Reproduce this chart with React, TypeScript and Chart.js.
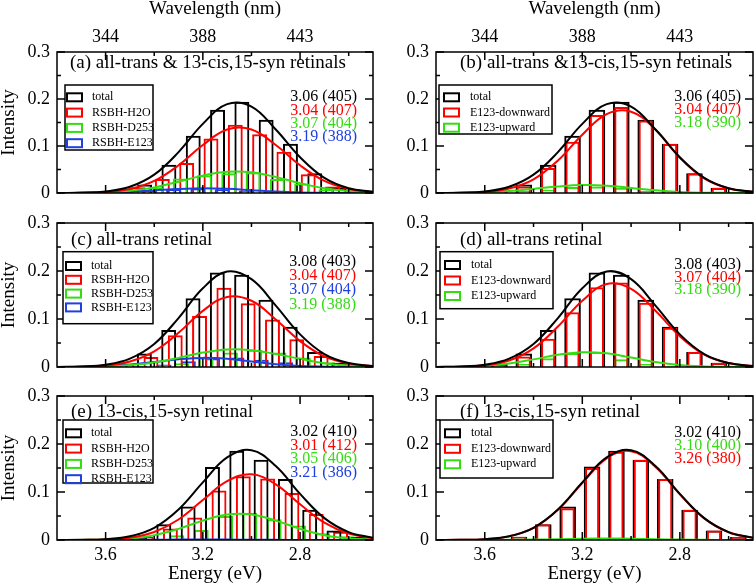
import React, { useEffect, useRef } from "react";
import { Chart, registerables } from "chart.js";

Chart.register(...registerables);

const SERIF = "'Liberation Serif', 'Times New Roman', 'DejaVu Serif', serif";

const BLACK = "#000000";
const RED = "#ff0000";
const GREEN = "#33dd11";
const BLUE = "#1f3fe0";

// ---------- shared axes ----------
const energyGrid = [3.8, 3.7, 3.6, 3.5, 3.4, 3.3, 3.2, 3.1, 3.0, 2.9, 2.8, 2.7, 2.6, 2.5];
const xMajorTicks = [3.6, 3.2, 2.8];
const xMinorTicks = [3.4, 3.0, 2.6];
const wavelengthLabels = ["344", "388", "443"];
const yMajorTicks = [0, 0.1, 0.2, 0.3];
const yMinorTicks = [0.05, 0.15, 0.25];

// ---------- panel (a) ----------
const binsA = [3.78, 3.68, 3.58, 3.48, 3.38, 3.28, 3.18, 3.08, 2.98, 2.88, 2.78, 2.68, 2.58];
const barsA_total = [0, 0.001, 0.005, 0.018, 0.06, 0.122, 0.177, 0.194, 0.156, 0.105, 0.042, 0.011, 0.002];
const barsA_h2o = [0, 0.001, 0.004, 0.012, 0.03, 0.064, 0.116, 0.145, 0.125, 0.088, 0.04, 0.014, 0.004];
const barsA_d253 = [0, 0, 0.001, 0.003, 0.012, 0.031, 0.038, 0.042, 0.044, 0.03, 0.02, 0.008, 0.002];
const barsA_e123 = [0, 0, 0.001, 0.002, 0.004, 0.008, 0.01, 0.008, 0.005, 0.002, 0.001, 0, 0];
const fitA_total = [0.0001, 0.0007, 0.0034, 0.0132, 0.039, 0.087, 0.147, 0.189, 0.184, 0.135, 0.076, 0.032, 0.01, 0.0025];
const fitA_h2o = [0.0001, 0.0004, 0.0021, 0.0085, 0.0256, 0.059, 0.102, 0.135, 0.135, 0.102, 0.059, 0.0256, 0.0085, 0.0021];
const fitA_d253 = [0.0001, 0.0004, 0.0015, 0.005, 0.012, 0.024, 0.037, 0.045, 0.044, 0.034, 0.021, 0.01, 0.004, 0.001];
const fitA_e123 = [0.0001, 0.0003, 0.001, 0.0026, 0.0054, 0.0085, 0.01, 0.0089, 0.0061, 0.0031, 0.0012, 0.0004, 0.0001, 0];

// ---------- panel (b) ----------
const binsB = [3.74, 3.64, 3.54, 3.44, 3.34, 3.24, 3.14, 3.04, 2.94, 2.84, 2.74, 2.64, 2.54];
const barsB_total = [0, 0.001, 0.005, 0.018, 0.06, 0.122, 0.177, 0.194, 0.156, 0.105, 0.042, 0.011, 0.002];
const barsB_down = [0, 0.001, 0.003, 0.014, 0.053, 0.109, 0.166, 0.183, 0.154, 0.104, 0.042, 0.011, 0.002];
const barsB_up = [0, 0, 0.001, 0.004, 0.007, 0.013, 0.014, 0.011, 0.004, 0.001, 0, 0, 0];
const fitB_total = [0.0001, 0.0007, 0.0034, 0.0132, 0.039, 0.087, 0.147, 0.189, 0.184, 0.135, 0.076, 0.032, 0.01, 0.0025];
const fitB_down = [0.0001, 0.0004, 0.0023, 0.0094, 0.029, 0.069, 0.124, 0.168, 0.173, 0.135, 0.075, 0.031, 0.0095, 0.0025];
const fitB_up = [0.0001, 0.0004, 0.0015, 0.0041, 0.0087, 0.0139, 0.0169, 0.0156, 0.0108, 0.0057, 0.0023, 0.0007, 0.0002, 0];

// ---------- panel (c) ----------
const binsC = [3.8, 3.7, 3.6, 3.5, 3.4, 3.3, 3.2, 3.1, 3.0, 2.9, 2.8, 2.7, 2.6];
const barsC_total = [0, 0.001, 0.002, 0.006, 0.028, 0.077, 0.143, 0.197, 0.192, 0.14, 0.084, 0.031, 0.009];
const barsC_h2o = [0, 0, 0.001, 0.005, 0.021, 0.066, 0.106, 0.165, 0.133, 0.099, 0.058, 0.023, 0.007];
const barsC_d253 = [0, 0, 0, 0.001, 0.003, 0.008, 0.02, 0.03, 0.036, 0.03, 0.02, 0.01, 0.003];
const barsC_e123 = [0, 0, 0.001, 0.002, 0.005, 0.012, 0.018, 0.02, 0.015, 0.01, 0.003, 0.001, 0];
const fitC_total = [0.0002, 0.001, 0.0048, 0.0174, 0.048, 0.102, 0.164, 0.199, 0.183, 0.128, 0.068, 0.027, 0.0082, 0.0019];
const fitC_h2o = [0.0001, 0.0006, 0.003, 0.0114, 0.0327, 0.0712, 0.117, 0.146, 0.138, 0.099, 0.054, 0.022, 0.007, 0.0016];
const fitC_d253 = [0.0001, 0.0003, 0.0012, 0.004, 0.0095, 0.019, 0.03, 0.0365, 0.035, 0.027, 0.017, 0.008, 0.003, 0.0008];
const fitC_e123 = [0.0001, 0.0005, 0.0018, 0.005, 0.0103, 0.0161, 0.019, 0.017, 0.0115, 0.0059, 0.0023, 0.0007, 0.0002, 0];

// ---------- panel (d) ----------
const binsD = [3.74, 3.64, 3.54, 3.44, 3.34, 3.24, 3.14, 3.04, 2.94, 2.84, 2.74, 2.64, 2.54];
const barsD_total = [0, 0.002, 0.006, 0.028, 0.077, 0.143, 0.197, 0.192, 0.14, 0.084, 0.031, 0.009, 0.002];
const barsD_down = [0, 0.001, 0.004, 0.022, 0.059, 0.114, 0.166, 0.176, 0.134, 0.082, 0.031, 0.009, 0.002];
const barsD_up = [0, 0.001, 0.002, 0.006, 0.018, 0.029, 0.031, 0.016, 0.006, 0.002, 0, 0, 0];
const fitD_total = [0.0002, 0.001, 0.0048, 0.0174, 0.048, 0.102, 0.164, 0.199, 0.183, 0.128, 0.068, 0.027, 0.0082, 0.0019];
const fitD_down = [0.0001, 0.0007, 0.0035, 0.0135, 0.0387, 0.0842, 0.138, 0.173, 0.163, 0.117, 0.064, 0.026, 0.0082, 0.0019];
const fitD_up = [0.0002, 0.0007, 0.0027, 0.0075, 0.0159, 0.0254, 0.0308, 0.0284, 0.0198, 0.0105, 0.0042, 0.0013, 0.0003, 0.0001];

// ---------- panel (e) ----------
const binsE = [3.72, 3.62, 3.52, 3.42, 3.32, 3.22, 3.12, 3.02, 2.92, 2.82, 2.72, 2.62, 2.52];
const barsE_total = [0, 0, 0.001, 0.005, 0.033, 0.07, 0.152, 0.186, 0.167, 0.127, 0.063, 0.02, 0.006];
const barsE_h2o = [0, 0, 0.001, 0.007, 0.024, 0.047, 0.103, 0.133, 0.128, 0.098, 0.054, 0.017, 0.006];
const barsE_d253 = [0, 0, 0, 0.002, 0.01, 0.021, 0.05, 0.057, 0.043, 0.03, 0.014, 0.008, 0.002];
const barsE_e123 = [0, 0, 0, 0, 0.001, 0.001, 0.001, 0, 0, 0, 0, 0, 0];
const fitE_total = [0, 0.0003, 0.0018, 0.0077, 0.0254, 0.0635, 0.12, 0.172, 0.187, 0.154, 0.096, 0.0455, 0.0164, 0.0045];
const fitE_h2o = [0, 0.0002, 0.0011, 0.0049, 0.0167, 0.0427, 0.0832, 0.1225, 0.1369, 0.1159, 0.0744, 0.0362, 0.0133, 0.0037];
const fitE_d253 = [0, 0.0002, 0.0008, 0.0034, 0.0101, 0.0232, 0.0403, 0.0531, 0.0531, 0.0403, 0.0232, 0.0101, 0.0034, 0.0008];
const fitE_e123 = [0, 0, 0, 0.0002, 0.0005, 0.0009, 0.001, 0.0008, 0.0005, 0.0003, 0.0001, 0, 0, 0];

// ---------- panel (f) ----------
const binsF = [3.76, 3.66, 3.56, 3.46, 3.36, 3.26, 3.16, 3.06, 2.96, 2.86, 2.76, 2.66, 2.56];
const barsF_total = [0, 0, 0.001, 0.007, 0.033, 0.07, 0.153, 0.186, 0.167, 0.127, 0.063, 0.02, 0.006];
const barsF_down = [0, 0, 0.001, 0.007, 0.033, 0.066, 0.15, 0.184, 0.167, 0.127, 0.063, 0.02, 0.006];
const barsF_up = [0, 0, 0, 0, 0.001, 0.002, 0.002, 0.002, 0.001, 0.001, 0, 0, 0];
const fitF_total = [0, 0.0003, 0.0018, 0.0077, 0.0254, 0.0635, 0.12, 0.172, 0.187, 0.154, 0.096, 0.0455, 0.0164, 0.0045];
const fitF_down = [0, 0.0003, 0.0018, 0.0076, 0.0251, 0.0629, 0.1187, 0.1702, 0.1849, 0.1523, 0.0952, 0.045, 0.0162, 0.0045];
const fitF_up = [0, 0, 0.0001, 0.0003, 0.0009, 0.0017, 0.0026, 0.003, 0.0026, 0.0017, 0.0009, 0.0003, 0.0001, 0];

// ---------- text ----------
const titles = [
  "(a) all-trans & 13-cis,15-syn retinals",
  "(b) all-trans &13-cis,15-syn retinals",
  "(c) all-trans retinal",
  "(d) all-trans retinal",
  "(e) 13-cis,15-syn retinal",
  "(f) 13-cis,15-syn retinal",
];
const notesA = ["3.06 (405)", "3.04 (407)", "3.07 (404)", "3.19 (388)"];
const notesB = ["3.06 (405)", "3.04 (407)", "3.18 (390)"];
const notesC = ["3.08 (403)", "3.04 (407)", "3.07 (404)", "3.19 (388)"];
const notesD = ["3.08 (403)", "3.07 (404)", "3.18 (390)"];
const notesE = ["3.02 (410)", "3.01 (412)", "3.05 (406)", "3.21 (386)"];
const notesF = ["3.02 (410)", "3.10 (400)", "3.26 (380)"];

type Series = { label: string; color: string; bars: number[]; fit: number[] };
type Panel = {
  key: string;
  left: number; top: number; w: number; h: number;
  yW: number; padR: number; topH: number; botH: number;
  showTop: boolean; showBottom: boolean; showYTitle: boolean;
  title: string; titleDx: number; titleDy: number;
  legend: { dx: number; dy: number; w: number; h: number; first: number; step: number; mx: number; tx: number };
  notes: string[]; noteColors: string[]; noteDx: number; noteDy: number; noteStep: number;
  bins: number[]; grouped: boolean;
  series: Series[]; // legend order
  barOrder: number[]; // dataset order of the bars (group slots left to right)
};

// canvases overlap slightly so tick labels at the plot edges are never clipped
const row1 = { top: 0, h: 210, topH: 52, botH: 17, showTop: true, showBottom: false };
const row2 = { top: 195, h: 190, topH: 28, botH: 18, showTop: false, showBottom: false };
const row3 = { top: 375, h: 212, topH: 21, botH: 47, showTop: false, showBottom: true };
const colL = { left: 0, w: 378, yW: 57, padR: 5, showYTitle: true };
const colR = { left: 378, w: 378, yW: 58, padR: 3, showYTitle: false };

const panels: Panel[] = [
  {
    key: "a", ...row1, ...colL,
    title: titles[0], titleDx: 13, titleDy: 11,
    legend: { dx: 8, dy: 33, w: 88, h: 65, first: 12.3, step: 15.3, mx: 2, tx: 27 },
    notes: notesA, noteColors: [BLACK, RED, GREEN, BLUE], noteDx: 16, noteDy: 45, noteStep: 13.3,
    bins: binsA, grouped: true,
    series: [
      { label: "total", color: BLACK, bars: barsA_total, fit: fitA_total },
      { label: "RSBH-H2O", color: RED, bars: barsA_h2o, fit: fitA_h2o },
      { label: "RSBH-D253", color: GREEN, bars: barsA_d253, fit: fitA_d253 },
      { label: "RSBH-E123", color: BLUE, bars: barsA_e123, fit: fitA_e123 },
    ],
    barOrder: [3, 2, 1, 0],
  },
  {
    key: "b", ...row1, ...colR,
    title: titles[1], titleDx: 24, titleDy: 11,
    legend: { dx: 3, dy: 33, w: 113, h: 49, first: 12.3, step: 15.2, mx: 5, tx: 31 },
    notes: notesB, noteColors: [BLACK, RED, GREEN], noteDx: 12, noteDy: 44.7, noteStep: 13,
    bins: binsB, grouped: false,
    series: [
      { label: "total", color: BLACK, bars: barsB_total, fit: fitB_total },
      { label: "E123-downward", color: RED, bars: barsB_down, fit: fitB_down },
      { label: "E123-upward", color: GREEN, bars: barsB_up, fit: fitB_up },
    ],
    barOrder: [1, 2, 0],
  },
  {
    key: "c", ...row2, ...colL,
    title: titles[2], titleDx: 14, titleDy: 17,
    legend: { dx: 6, dy: 28.7, w: 90, h: 72, first: 14.3, step: 13.8, mx: 3, tx: 28 },
    notes: notesC, noteColors: [BLACK, RED, BLUE, GREEN], noteDx: 17, noteDy: 38.7, noteStep: 14.2,
    bins: binsC, grouped: true,
    series: [
      { label: "total", color: BLACK, bars: barsC_total, fit: fitC_total },
      { label: "RSBH-H2O", color: RED, bars: barsC_h2o, fit: fitC_h2o },
      { label: "RSBH-D253", color: GREEN, bars: barsC_d253, fit: fitC_d253 },
      { label: "RSBH-E123", color: BLUE, bars: barsC_e123, fit: fitC_e123 },
    ],
    barOrder: [0, 1, 2, 3],
  },
  {
    key: "d", ...row2, ...colR,
    title: titles[3], titleDx: 24, titleDy: 17,
    legend: { dx: 4, dy: 28.7, w: 113, h: 57, first: 13.3, step: 15.5, mx: 5, tx: 31 },
    notes: notesD, noteColors: [BLACK, RED, GREEN], noteDx: 12, noteDy: 42, noteStep: 12.5,
    bins: binsD, grouped: false,
    series: [
      { label: "total", color: BLACK, bars: barsD_total, fit: fitD_total },
      { label: "E123-downward", color: RED, bars: barsD_down, fit: fitD_down },
      { label: "E123-upward", color: GREEN, bars: barsD_up, fit: fitD_up },
    ],
    barOrder: [1, 2, 0],
  },
  {
    key: "e", ...row3, ...colL,
    title: titles[4], titleDx: 14, titleDy: 16,
    legend: { dx: 6, dy: 24, w: 90, h: 63, first: 13.3, step: 15.3, mx: 3, tx: 28 },
    notes: notesE, noteColors: [BLACK, RED, GREEN, BLUE], noteDx: 16, noteDy: 35.7, noteStep: 13.7,
    bins: binsE, grouped: true,
    series: [
      { label: "total", color: BLACK, bars: barsE_total, fit: fitE_total },
      { label: "RSBH-H2O", color: RED, bars: barsE_h2o, fit: fitE_h2o },
      { label: "RSBH-D253", color: GREEN, bars: barsE_d253, fit: fitE_d253 },
      { label: "RSBH-E123", color: BLUE, bars: barsE_e123, fit: fitE_e123 },
    ],
    barOrder: [0, 1, 2, 3],
  },
  {
    key: "f", ...row3, ...colR,
    title: titles[5], titleDx: 24, titleDy: 16,
    legend: { dx: 4, dy: 24, w: 113, h: 58, first: 13.3, step: 15.5, mx: 5, tx: 31 },
    notes: notesF, noteColors: [BLACK, GREEN, RED], noteDx: 12, noteDy: 36.7, noteStep: 13.2,
    bins: binsF, grouped: false,
    series: [
      { label: "total", color: BLACK, bars: barsF_total, fit: fitF_total },
      { label: "E123-downward", color: RED, bars: barsF_down, fit: fitF_down },
      { label: "E123-upward", color: GREEN, bars: barsF_up, fit: fitF_up },
    ],
    barOrder: [1, 2, 0],
  },
];

function makeDecor(p: Panel) {
  return {
    id: "decor_" + p.key,
    afterDatasetsDraw(chart: any) {
      const { ctx, chartArea: a } = chart;
      const xs = chart.scales.x;
      const ys = chart.scales.y;
      ctx.save();
      // inward ticks on all four sides
      ctx.strokeStyle = "#000";
      ctx.lineWidth = 1.5;
      ctx.beginPath();
      const xt = (vals: number[], len: number) => {
        for (const v of vals) {
          const px = xs.getPixelForValue(v);
          ctx.moveTo(px, a.bottom);
          ctx.lineTo(px, a.bottom - len);
          ctx.moveTo(px, a.top);
          ctx.lineTo(px, a.top + len);
        }
      };
      const yt = (vals: number[], len: number) => {
        for (const v of vals) {
          const py = ys.getPixelForValue(v);
          ctx.moveTo(a.left, py);
          ctx.lineTo(a.left + len, py);
          ctx.moveTo(a.right, py);
          ctx.lineTo(a.right - len, py);
        }
      };
      xt(xMajorTicks, 8);
      xt(xMinorTicks, 4);
      yt(yMajorTicks, 8);
      yt(yMinorTicks, 4);
      ctx.stroke();
      ctx.strokeRect(a.left, a.top, a.right - a.left, a.bottom - a.top);

      // panel title
      ctx.fillStyle = "#000";
      ctx.font = `19px ${SERIF}`;
      ctx.textAlign = "left";
      ctx.textBaseline = "middle";
      ctx.fillText(p.title, a.left + p.titleDx, a.top + p.titleDy);

      // legend box
      const L = p.legend;
      const bx = a.left + L.dx;
      const by = a.top + L.dy;
      ctx.fillStyle = "#fff";
      ctx.fillRect(bx, by, L.w, L.h);
      ctx.strokeStyle = "#000";
      ctx.lineWidth = 1.5;
      ctx.strokeRect(bx, by, L.w, L.h);
      ctx.font = `12px ${SERIF}`;
      p.series.forEach((s, i) => {
        const ry = by + L.first + i * L.step;
        ctx.strokeStyle = s.color;
        ctx.lineWidth = 2;
        ctx.strokeRect(bx + L.mx, ry - 4, 15, 8);
        ctx.fillStyle = "#000";
        ctx.fillText(s.label, bx + L.tx, ry);
      });

      // fitted peak notes
      ctx.font = `16px ${SERIF}`;
      ctx.textAlign = "right";
      p.notes.forEach((t, i) => {
        ctx.fillStyle = p.noteColors[i];
        ctx.fillText(t, a.right - p.noteDx, a.top + p.noteDy + i * p.noteStep);
      });
      ctx.restore();
    },
  };
}

function buildConfig(p: Panel): any {
  const datasets: any[] = [];
  p.series.forEach((s) => {
    datasets.push({
      type: "line",
      label: s.label + " fit",
      data: energyGrid.map((x, i) => ({ x, y: s.fit[i] })),
      borderColor: s.color,
      borderWidth: 2,
      pointRadius: 0,
      tension: 0.4,
      fill: false,
      order: 1,
      xAxisID: "x",
      yAxisID: "y",
    });
  });
  p.barOrder.forEach((si) => {
    const s = p.series[si];
    datasets.push({
      type: "bar",
      label: s.label,
      data: p.bins.map((x, i) => ({ x, y: s.bars[i] })),
      backgroundColor: "rgba(0,0,0,0)",
      borderColor: s.color,
      borderWidth: 2,
      grouped: p.grouped,
      categoryPercentage: p.grouped ? 1.08 : 1,
      barPercentage: p.grouped ? 2.27 : si === 0 ? 0.68 : 0.58,
      order: 2,
      xAxisID: "x",
      yAxisID: "y",
    });
  });

  const tickFont = { family: SERIF, size: 18, lineHeight: 1.2 };
  const titleFont = { family: SERIF, size: 19, lineHeight: 1 };
  const noPadH = (sc: any) => {
    sc.paddingLeft = 0;
    sc.paddingRight = 0;
    sc.paddingTop = 0;
    sc.paddingBottom = 0;
  };

  return {
    type: "bar",
    data: { datasets },
    options: {
      responsive: false,
      animation: false,
      devicePixelRatio: 1,
      layout: { padding: { left: 0, right: p.padR, top: 0, bottom: 0 } },
      plugins: { legend: { display: false }, tooltip: { enabled: false }, title: { display: false } },
      events: [],
      scales: {
        x: {
          type: "linear",
          position: "bottom",
          min: 2.5,
          max: 3.8,
          reverse: true,
          offset: false,
          stacked: false,
          grid: { display: false, drawTicks: false, offset: false },
          border: { display: false },
          afterBuildTicks: (sc: any) => {
            sc.ticks = xMajorTicks.map((v) => ({ value: v }));
          },
          ticks: {
            display: p.showBottom,
            color: "#000",
            font: tickFont,
            padding: 4,
            maxRotation: 0,
            autoSkip: false,
            callback: (v: any) => Number(v).toFixed(1),
          },
          title: {
            display: p.showBottom,
            text: "Energy (eV)",
            color: "#000",
            font: titleFont,
            padding: { top: 0, bottom: 3 },
          },
          afterFit: (sc: any) => {
            sc.height = p.botH;
            noPadH(sc);
          },
        },
        x2: {
          type: "linear",
          position: "top",
          axis: "x",
          min: 2.5,
          max: 3.8,
          reverse: true,
          offset: false,
          grid: { display: false, drawTicks: false, offset: false },
          border: { display: false },
          afterBuildTicks: (sc: any) => {
            sc.ticks = xMajorTicks.map((v) => ({ value: v }));
          },
          ticks: {
            display: p.showTop,
            color: "#000",
            font: tickFont,
            padding: 4,
            maxRotation: 0,
            autoSkip: false,
            callback: (_v: any, i: number) => wavelengthLabels[i],
          },
          title: {
            display: p.showTop,
            text: "Wavelength (nm)",
            color: "#000",
            font: titleFont,
            padding: { top: 0, bottom: 0 },
          },
          afterFit: (sc: any) => {
            sc.height = p.topH;
            noPadH(sc);
          },
        },
        y: {
          type: "linear",
          position: "left",
          min: 0,
          max: 0.3,
          stacked: false,
          grid: { display: false, drawTicks: false },
          border: { display: false },
          afterBuildTicks: (sc: any) => {
            sc.ticks = yMajorTicks.map((v) => ({ value: v }));
          },
          ticks: {
            color: "#000",
            font: tickFont,
            padding: 7,
            autoSkip: false,
            callback: (v: any) => (Number(v) === 0 ? "0" : Number(v).toFixed(1)),
          },
          title: {
            display: p.showYTitle,
            text: "Intensity",
            color: "#000",
            font: titleFont,
            padding: { top: 0, bottom: 0 },
          },
          afterFit: (sc: any) => {
            sc.width = p.yW;
            noPadH(sc);
          },
        },
      },
    },
    plugins: [makeDecor(p)],
  };
}

function PanelChart({ p }: { p: Panel }) {
  const ref = useRef<HTMLCanvasElement | null>(null);
  useEffect(() => {
    if (!ref.current) return;
    const chart = new Chart(ref.current, buildConfig(p));
    return () => chart.destroy();
  }, [p]);
  return (
    <canvas
      ref={ref}
      width={p.w}
      height={p.h}
      style={{ position: "absolute", left: p.left, top: p.top, width: p.w, height: p.h }}
    />
  );
}

export default function App() {
  return (
    <div
      style={{
        position: "fixed",
        left: 0,
        top: 0,
        width: 756,
        height: 587,
        background: "#fff",
        overflow: "hidden",
      }}
    >
      {panels.map((p) => (
        <PanelChart key={p.key} p={p} />
      ))}
    </div>
  );
}
